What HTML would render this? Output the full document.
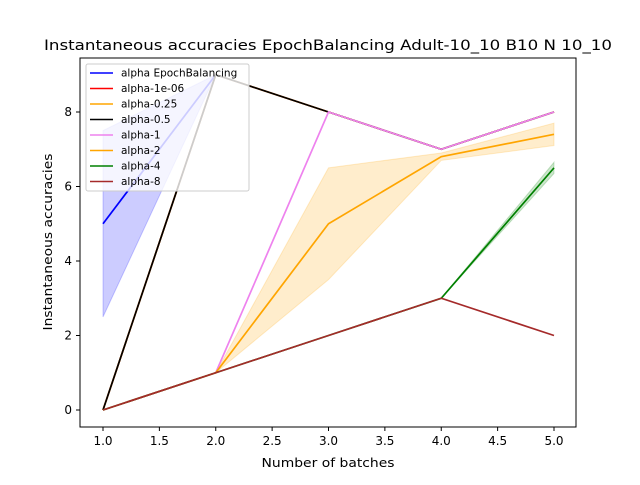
<!DOCTYPE html>
<html><head><meta charset="utf-8"><style>
body{margin:0;background:#fff;font-family:"Liberation Sans","DejaVu Sans",sans-serif}
svg text{font-family:"DejaVu Sans","Liberation Sans",sans-serif}
</style></head><body>
<svg id="chart" width="640" height="480" xmlns="http://www.w3.org/2000/svg">
<rect width="640" height="480" fill="#fff"/>
<text x="328" y="50" font-size="14.4" text-anchor="middle" textLength="568" lengthAdjust="spacingAndGlyphs">Instantaneous accuracies EpochBalancing Adult-10_10 B10 N 10_10</text>
<g id="bands"></g><g id="lines"></g>
<rect x="80" y="58" width="496" height="369" fill="none" stroke="#000" stroke-width="1"/>
<g id="ticks"></g>
<text x="328" y="467" font-size="12.5" text-anchor="middle" textLength="133" lengthAdjust="spacingAndGlyphs">Number of batches</text>
<text transform="translate(52,242) rotate(-90)" font-size="12.5" text-anchor="middle" textLength="177" lengthAdjust="spacingAndGlyphs">Instantaneous accuracies</text>
<g id="legend"></g>
</svg>
<script>
const xs=[1,2,3,4,5];
const seriesNames=["alpha EpochBalancing","alpha-1e-06","alpha-0.25","alpha-0.5","alpha-1","alpha-2","alpha-4","alpha-8"];
const seriesColors=["blue","red","orange","black","violet","orange","green","brown"];
const sEpoch=[5,9,null,null,null];
const s1e6=[0,9,8,7,8];
const s025=[0,9,8,7,8];
const s05=[0,9,8,7,8];
const s1=[0,1,8,7,8];
const s2=[0,1,5,6.8,7.4];
const s4=[0,1,2,3,6.5];
const s8=[0,1,2,3,2];
const bandEpochLo=[2.5,9], bandEpochHi=[7.5,9];
const band2Lo=[0,1,3.5,6.7,7.1], band2Hi=[0,1,6.5,6.9,7.7];
const band4Lo=[0,1,2,3,6.35], band4Hi=[0,1,2,3,6.65];
const xTicks=[1,1.5,2,2.5,3,3.5,4,4.5,5];
const yTicks=[0,2,4,6,8];
const X=v=>103+(v-1)*112.75, Y=v=>410-v*37.25;
const NS="http://www.w3.org/2000/svg";
function mk(t,a,p){const e=document.createElementNS(NS,t);for(const k in a)e.setAttribute(k,a[k]);p.appendChild(e);return e;}
const bands=document.getElementById('bands'),lines=document.getElementById('lines'),ticks=document.getElementById('ticks'),leg=document.getElementById('legend');
function band(lo,hi,col,op,name){
 let pts=[];for(let i=0;i<lo.length;i++)pts.push(X(xs[i])+','+Y(hi[i]));
 for(let i=lo.length-1;i>=0;i--)pts.push(X(xs[i])+','+Y(lo[i]));
 const b=mk('polygon',{points:pts.join(' '),fill:col,'fill-opacity':op,stroke:col,'stroke-opacity':op},bands);
 
 
}
band(bandEpochLo,bandEpochHi,'blue',0.2,'band-epoch');
band(band2Lo,band2Hi,'orange',0.2,'band-alpha-2');
band(band4Lo,band4Hi,'green',0.2,'band-alpha-4');
const all=[sEpoch,s1e6,s025,s05,s1,s2,s4,s8];
all.forEach((s,i)=>{
 const pts=[];s.forEach((v,j)=>{if(v!==null)pts.push(X(xs[j])+','+Y(v));});
 const l=mk('polyline',{points:pts.join(' '),fill:'none',stroke:seriesColors[i],'stroke-width':1.7},lines);
 
 
});
xTicks.forEach(t=>{
 mk('line',{x1:X(t),x2:X(t),y1:427,y2:431,stroke:'#000'},ticks);
 const e=mk('text',{x:X(t),y:445,'font-size':12,'text-anchor':'middle'},ticks);e.textContent=t.toFixed(1);
 
 
});
yTicks.forEach(t=>{
 mk('line',{x1:76,x2:80,y1:Y(t),y2:Y(t),stroke:'#000'},ticks);
 const e=mk('text',{x:72,y:Y(t)+4,'font-size':12,'text-anchor':'end'},ticks);e.textContent=t;
 
 
});
const box=mk('rect',{x:86,y:64,width:163,height:127,rx:2,fill:'#fff','fill-opacity':0.8,stroke:'#ccc'},leg);


seriesNames.forEach((n,i)=>{
 const y=73+i*15.5;
 mk('line',{x1:90,x2:113,y1:y,y2:y,stroke:seriesColors[i],'stroke-width':1.5},leg);
 const t=mk('text',{x:121,y:y+3.5,'font-size':10.5},leg);t.textContent=n;
 
 
});
</script>
</body></html>
